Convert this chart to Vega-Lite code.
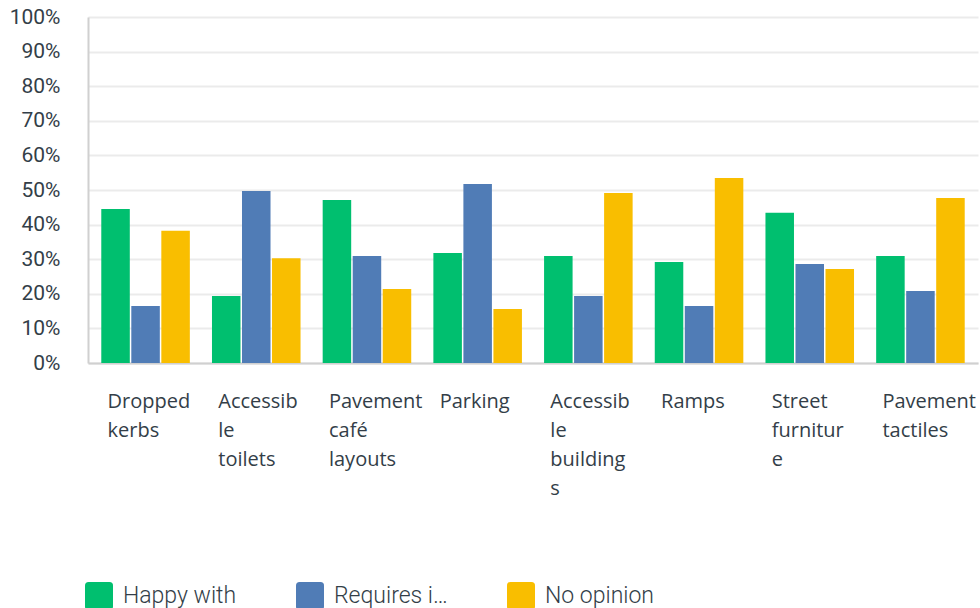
{
  "$schema": "https://vega.github.io/schema/vega-lite/v6.json",
  "width": 890,
  "height": 346,
  "autosize": {"type": "none"},
  "padding": {"left": 88, "top": 17, "right": 2, "bottom": 245},
  "background": "white",
  "config": {
    "view": {"stroke": null},
    "font": "Roboto"
  },
  "data": {
    "values": [
      {"category": "Dropped kerbs", "response": "Happy with", "value": 0.445},
      {"category": "Dropped kerbs", "response": "Requires improvement", "value": 0.165},
      {"category": "Dropped kerbs", "response": "No opinion", "value": 0.382},
      {"category": "Accessible toilets", "response": "Happy with", "value": 0.194},
      {"category": "Accessible toilets", "response": "Requires improvement", "value": 0.497},
      {"category": "Accessible toilets", "response": "No opinion", "value": 0.303},
      {"category": "Pavement café layouts", "response": "Happy with", "value": 0.471},
      {"category": "Pavement café layouts", "response": "Requires improvement", "value": 0.309},
      {"category": "Pavement café layouts", "response": "No opinion", "value": 0.214},
      {"category": "Parking", "response": "Happy with", "value": 0.318},
      {"category": "Parking", "response": "Requires improvement", "value": 0.517},
      {"category": "Parking", "response": "No opinion", "value": 0.156},
      {"category": "Accessible buildings", "response": "Happy with", "value": 0.309},
      {"category": "Accessible buildings", "response": "Requires improvement", "value": 0.194},
      {"category": "Accessible buildings", "response": "No opinion", "value": 0.491},
      {"category": "Ramps", "response": "Happy with", "value": 0.292},
      {"category": "Ramps", "response": "Requires improvement", "value": 0.165},
      {"category": "Ramps", "response": "No opinion", "value": 0.535},
      {"category": "Street furniture", "response": "Happy with", "value": 0.434},
      {"category": "Street furniture", "response": "Requires improvement", "value": 0.286},
      {"category": "Street furniture", "response": "No opinion", "value": 0.272},
      {"category": "Pavement tactiles", "response": "Happy with", "value": 0.309},
      {"category": "Pavement tactiles", "response": "Requires improvement", "value": 0.208},
      {"category": "Pavement tactiles", "response": "No opinion", "value": 0.477}
    ]
  },
  "mark": {"type": "bar"},
  "encoding": {
    "x": {
      "field": "category",
      "type": "nominal",
      "sort": null,
      "scale": {"paddingInner": 0.2, "paddingOuter": 0.12},
      "axis": {
        "title": null,
        "labelAngle": 0,
        "ticks": false,
        "domainColor": "#d0d0d0",
        "domainWidth": 2,
        "labelAlign": "left",
        "labelBaseline": "top",
        "labelOffset": -38,
        "labelPadding": 28,
        "labelFont": "Open Sans",
        "labelFontSize": 20,
        "labelColor": "#333e48",
        "labelLineHeight": 29,
        "labelLimit": 200,
        "labelOverlap": false,
        "labelBound": false,
        "labelExpr": "datum.label == 'Dropped kerbs' ? ['Dropped','kerbs'] : datum.label == 'Accessible toilets' ? ['Accessib','le','toilets'] : datum.label == 'Pavement café layouts' ? ['Pavement','café','layouts'] : datum.label == 'Accessible buildings' ? ['Accessib','le','building','s'] : datum.label == 'Street furniture' ? ['Street','furnitur','e'] : datum.label == 'Pavement tactiles' ? ['Pavement','tactiles'] : datum.label"
      }
    },
    "xOffset": {
      "field": "response",
      "type": "nominal",
      "sort": ["Happy with", "Requires improvement", "No opinion"],
      "scale": {"paddingInner": 0.05}
    },
    "y": {
      "field": "value",
      "type": "quantitative",
      "scale": {"domain": [0, 1]},
      "axis": {
        "title": null,
        "format": ".0%",
        "values": [0, 0.1, 0.2, 0.3, 0.4, 0.5, 0.6, 0.7, 0.8, 0.9, 1],
        "ticks": false,
        "domainColor": "#d0d0d0",
        "domainWidth": 2,
        "gridColor": "#ebebeb",
        "gridWidth": 2,
        "labelPadding": 28,
        "labelFontSize": 21,
        "labelColor": "#333e48"
      }
    },
    "color": {
      "field": "response",
      "type": "nominal",
      "sort": ["Happy with", "Requires improvement", "No opinion"],
      "scale": {
        "domain": ["Happy with", "Requires improvement", "No opinion"],
        "range": ["#00bf6f", "#507cb6", "#f9be00"]
      },
      "legend": {
        "title": null,
        "orient": "none",
        "direction": "horizontal",
        "legendX": -3,
        "legendY": 565,
        "symbolType": "M -0.75 -1 L 0.75 -1 Q 1 -1 1 -0.75 L 1 0.75 Q 1 1 0.75 1 L -0.75 1 Q -1 1 -1 0.75 L -1 -0.75 Q -1 -1 -0.75 -1 Z",
        "symbolSize": 784,
        "symbolStrokeWidth": 0,
        "labelFontSize": 23,
        "labelFontWeight": 300,
        "labelColor": "#333e48",
        "labelLimit": 118,
        "labelOffset": 10,
        "columnPadding": 59
      }
    }
  }
}
